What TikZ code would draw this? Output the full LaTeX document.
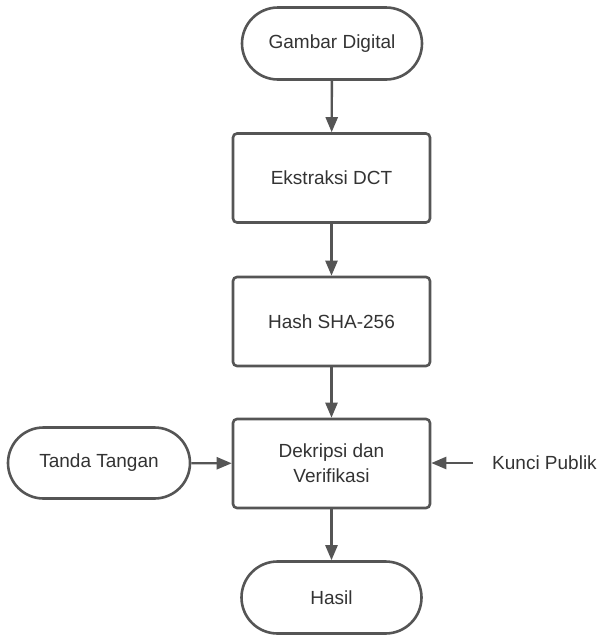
\documentclass[tikz,border=0pt]{standalone}
\usepackage{fontspec}
\setmainfont{Liberation Sans}
\usetikzlibrary{shapes.misc,arrows.meta}
\definecolor{linegray}{RGB}{85,85,85}
\definecolor{textgray}{RGB}{51,51,51}
\tikzset{
	base/.style={draw=linegray, line width=2.6pt, fill=white, text=textgray,
		font=\fontsize{19}{25}\selectfont, align=center, inner sep=0pt},
	process/.style={base, rectangle, rounded corners=4pt, minimum width=197pt, minimum height=89pt},
	terminal/.style={base, rounded rectangle, minimum width=180pt, minimum height=72pt},
	flow/.style={draw=linegray, line width=2.4pt, -{Triangle[length=15pt,width=12pt]}}
}
\begin{document}
\begin{tikzpicture}[x=1pt, y=-1pt]
	\useasboundingbox (0, 0) rectangle (601, 635);
	
	\node[terminal] (gambar) at (332, 43.5) {Gambar Digital};
	\node[process] (ekstraksi) at (331.5, 178) {Ekstraksi DCT};
	\node[process] (hash) at (331.5, 321.5) {Hash SHA-256};
	\node[process] (dekripsi) at (331.5, 463.5) {Dekripsi dan\\Verifikasi};
	\node[terminal] (hasil) at (331.5, 597.5) {Hasil};
	
	\node[terminal, minimum width=182pt, minimum height=71pt] (tanda) at (99, 463) {Tanda Tangan};
	\node[text=textgray, font=\fontsize{19}{25}\selectfont, inner sep=0pt, anchor=west] (kunci) at (492, 463) {Kunci Publik};
	\coordinate (kunciend) at (473, 463);
	
	\draw[flow] (gambar) -- (ekstraksi);
	\draw[flow] (ekstraksi) -- (hash);
	\draw[flow] (hash) -- (dekripsi);
	\draw[flow] (dekripsi) -- (hasil);
	\draw[flow] (tanda) -- (dekripsi);
	\draw[flow] (kunciend) -- (dekripsi.east |- kunciend);
\end{tikzpicture}
\end{document}
